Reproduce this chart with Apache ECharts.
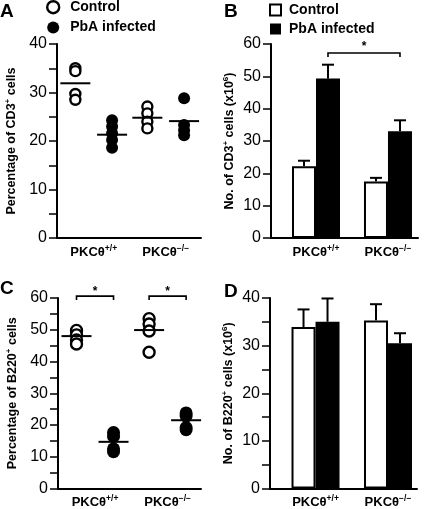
<!DOCTYPE html>
<html>
<head>
<meta charset="utf-8">
<script src="https://cdn.jsdelivr.net/npm/echarts@6/dist/echarts.min.js"></script>
<style>html,body{margin:0;padding:0;background:#fff}#c{width:425px;height:509px}</style>
</head>
<body>
<div id="c"></div>
<script>
// ---------- data ----------
const catBase = ['PKCθ', 'PKCθ'];
const catSup = ['+/+', '−/−'];
const seriesNames = ['Control', 'PbA infected'];

// Panel A: % CD3+ cells (individual animals, per genotype)
const A_control = [[35.0, 34.4, 29.7, 28.5], [27.1, 25.7, 24.0, 22.6]];
const A_pba = [[24.3, 23.0, 21.6, 20.2, 18.6], [28.8, 23.3, 22.2, 21.2]];
const A_controlMean = [31.9, 24.8];
const A_pbaMean = [21.3, 24.1];
const A_ticks = [0, 10, 20, 30, 40];

// Panel B: No. of CD3+ cells (x10^6)
const B_control = [22.2, 17.5];
const B_controlErr = [1.7, 1.1];
const B_pba = [49.3, 33.0];
const B_pbaErr = [4.3, 3.4];
const B_ticks = [0, 10, 20, 30, 40, 50, 60];

// Panel C: % B220+ cells
const C_control = [[49.8, 48.4, 46.8, 45.5], [53.5, 51.8, 49.6, 42.9]];
const C_pba = [[17.6, 16.4, 12.5, 11.6], [23.8, 22.8, 19.2, 18.5]];
const C_controlMean = [48.0, 49.9];
const C_pbaMean = [14.7, 21.5];
const C_ticks = [0, 10, 20, 30, 40, 50, 60];

// Panel D: No. of B220+ cells (x10^6)
const D_control = [33.9, 35.3];
const D_controlErr = [3.7, 3.4];
const D_pba = [35.0, 30.5];
const D_pbaErr = [4.9, 2.1];
const D_ticks = [0, 10, 20, 30, 40];

// significance brackets: [from category, to category, level]
const B_sig = [[0, 1, 57.2]];
const C_sig = [[0, 0, 60.6], [1, 1, 60.6]];

// ---------- styles ----------
const FONT = '"Liberation Sans", Arial, Helvetica, sans-serif';
const OFF = 0.255;      // scatter group offset (axis units)
const BAR_W = 24;       // px

const chart = echarts.init(document.getElementById('c'), null, {renderer: 'canvas'});

function catFormatter(v) {
  const i = Math.round(v);
  if (Math.abs(v - i) > 1e-6 || i < 0 || i > 1) return '';
  return '{b|' + catBase[i] + '}{s|' + catSup[i] + '}';
}
function xAxisCfg(gi, min, max) {
  return {
    type: 'value', gridIndex: gi, min: min, max: max,
    axisLine: {show: true, onZero: false, lineStyle: {color: '#000', width: 2}},
    axisTick: {show: false}, splitLine: {show: false},
    axisLabel: {
      customValues: [0, 1], formatter: catFormatter, margin: 6,
      rich: {
        b: {fontFamily: FONT, fontSize: 13, fontWeight: 'bold', color: '#000', lineHeight: 16},
        s: {fontFamily: FONT, fontSize: 8.5, fontWeight: 'bold', color: '#000', verticalAlign: 'top', lineHeight: 10}
      }
    }
  };
}
function yAxisCfg(gi, ticks, minor, nameRich, gap) {
  return {
    type: 'value', gridIndex: gi, min: ticks[0], max: ticks[ticks.length - 1], interval: ticks[1] - ticks[0],
    axisLine: {show: true, onZero: false, lineStyle: {color: '#000', width: 2}},
    axisTick: {show: true, length: 8, lineStyle: {color: '#000', width: 1.5}},
    minorTick: {show: minor, splitNumber: 2, length: 8, lineStyle: {color: '#000', width: 1.5}},
    splitLine: {show: false},
    axisLabel: {fontFamily: FONT, fontSize: 16, color: '#000', margin: 10},
    name: nameRich, nameLocation: 'middle', nameRotate: 90, nameGap: gap,
    nameTextStyle: {
      rich: {
        a: {fontFamily: FONT, fontSize: 12.5, fontWeight: 'bold', color: '#000', lineHeight: 15},
        s: {fontFamily: FONT, fontSize: 8, fontWeight: 'bold', color: '#000', verticalAlign: 'top', lineHeight: 9}
      }
    }
  };
}

function scatterData(groups, sign) {
  const out = [];
  groups.forEach((g, i) => g.forEach(v => out.push([i + sign * OFF, v])));
  return out;
}
function meanData(means, sign) {
  return means.map((v, i) => [i + sign * OFF, v]);
}
function barData(vals) { return vals.map((v, i) => [i, v]); }
function errData(vals, errs) { return vals.map((v, i) => [i, v, errs[i]]); }

function errSeries(gi, vals, errs, sign) {
  return {
    type: 'custom', xAxisIndex: gi, yAxisIndex: gi, z: 5,
    data: errData(vals, errs),
    encode: {x: 0, y: 1},
    renderItem: function (params, api) {
      const x = api.value(0), y = api.value(1), e = api.value(2);
      const p0 = api.coord([x, y]);
      const p1 = api.coord([x, y + e]);
      const cx = p0[0] + sign * BAR_W / 2;
      return {type: 'group', children: [
        {type: 'line', shape: {x1: cx, y1: p0[1], x2: cx, y2: p1[1]}, style: {stroke: '#000', lineWidth: 2}},
        {type: 'line', shape: {x1: cx - 6, y1: p1[1], x2: cx + 6, y2: p1[1]}, style: {stroke: '#000', lineWidth: 2}}
      ]};
    }
  };
}
function sigSeries(gi, data, unitShift1, unitShift2, pxShift, tick, starLift) {
  return {
    type: 'custom', xAxisIndex: gi, yAxisIndex: gi, z: 6, clip: false,
    data: data, encode: {x: [0, 1], y: 2},
    renderItem: function (params, api) {
      const a = api.coord([api.value(0) + unitShift1, api.value(2)]);
      const b = api.coord([api.value(1) + unitShift2, api.value(2)]);
      const x1 = a[0] + pxShift, x2 = b[0] + pxShift, y = a[1];
      return {type: 'group', children: [
        {type: 'polyline', shape: {points: [[x1, y + tick], [x1, y], [x2, y], [x2, y + tick]]},
          style: {stroke: '#000', lineWidth: 1.6, fill: null}},
        {type: 'text', style: {text: '*', x: (x1 + x2) / 2, y: y - starLift, textAlign: 'center', textVerticalAlign: 'middle',
          font: 'bold 12px ' + FONT, fill: '#000'}}
      ]};
    }
  };
}

const openCircle = {color: '#fff', borderColor: '#000', borderWidth: 2.4, opacity: 1};
const filled = {color: '#000', opacity: 1};

const option = {
  animation: false,
  backgroundColor: '#fff',
  title: [
    {text: 'A', left: 0, top: 2, padding: 0, textStyle: {fontFamily: FONT, fontSize: 19, fontWeight: 'bold', color: '#000'}},
    {text: 'B', left: 224, top: 2, padding: 0, textStyle: {fontFamily: FONT, fontSize: 19, fontWeight: 'bold', color: '#000'}},
    {text: 'C', left: 0, top: 279, padding: 0, textStyle: {fontFamily: FONT, fontSize: 19, fontWeight: 'bold', color: '#000'}},
    {text: 'D', left: 224, top: 282, padding: 0, textStyle: {fontFamily: FONT, fontSize: 19, fontWeight: 'bold', color: '#000'}}
  ],
  legend: [
    {left: 46, top: 0, orient: 'vertical', padding: 0, itemGap: 6, itemWidth: 12, itemHeight: 12, selectedMode: false,
      textStyle: {fontFamily: FONT, fontSize: 14, fontWeight: 'bold', color: '#000', padding: [0, 0, 0, 6]},
      data: [
        {name: seriesNames[0], icon: 'circle', itemStyle: {color: '#fff', borderColor: '#000', borderWidth: 2.4, opacity: 1}},
        {name: seriesNames[1], icon: 'circle', itemStyle: {color: '#000', borderWidth: 0, opacity: 1}}
      ]},
    {left: 269, top: 3, orient: 'vertical', padding: 0, itemGap: 5, itemWidth: 11, itemHeight: 11, selectedMode: false,
      textStyle: {fontFamily: FONT, fontSize: 14, fontWeight: 'bold', color: '#000', padding: [0, 0, 0, 3]},
      data: [
        {name: seriesNames[0], icon: 'rect', itemStyle: {color: '#fff', borderColor: '#000', borderWidth: 2, opacity: 1}},
        {name: seriesNames[1], icon: 'rect', itemStyle: {color: '#000', borderWidth: 0, opacity: 1}}
      ]}
  ],
  grid: [
    {left: 57, top: 44, width: 144, height: 194},
    {left: 271, top: 44, width: 147, height: 194},
    {left: 58, top: 298, width: 143, height: 191},
    {left: 270, top: 298, width: 147, height: 191}
  ],
  xAxis: [
    xAxisCfg(0, -0.51, 1.49),
    xAxisCfg(1, -0.625, 1.417),
    xAxisCfg(2, -0.51, 1.46),
    xAxisCfg(3, -0.628, 1.4)
  ],
  yAxis: [
    yAxisCfg(0, A_ticks, true, '{a|Percentage of CD3}{s|+}{a| cells}', 38),
    yAxisCfg(1, B_ticks, false, '{a|No. of CD3}{s|+}{a| cells (x10}{s|6}{a|)}', 34),
    yAxisCfg(2, C_ticks, true, '{a|Percentage of B220}{s|+}{a| cells}', 38),
    yAxisCfg(3, D_ticks, true, '{a|No. of B220}{s|+}{a| cells (x10}{s|6}{a|)}', 34)
  ],
  series: [
    // Panel A
    {name: seriesNames[0], type: 'scatter', xAxisIndex: 0, yAxisIndex: 0, symbol: 'circle', symbolSize: 10, itemStyle: openCircle, data: scatterData(A_control, -1), z: 3},
    {name: seriesNames[1], type: 'scatter', xAxisIndex: 0, yAxisIndex: 0, symbol: 'circle', symbolSize: 12, itemStyle: filled, data: scatterData(A_pba, 1), z: 3},
    {type: 'scatter', xAxisIndex: 0, yAxisIndex: 0, symbol: 'rect', symbolSize: [30, 2], itemStyle: filled, data: meanData(A_controlMean, -1).concat(meanData(A_pbaMean, 1)), z: 4},
    // Panel B
    {name: seriesNames[0], type: 'bar', xAxisIndex: 1, yAxisIndex: 1, barWidth: BAR_W, barGap: '0%', itemStyle: {color: '#fff', borderColor: '#000', borderWidth: 2, opacity: 1}, data: barData(B_control)},
    {name: seriesNames[1], type: 'bar', xAxisIndex: 1, yAxisIndex: 1, barWidth: BAR_W, barGap: '0%', itemStyle: {color: '#000', borderColor: '#000', borderWidth: 2, opacity: 1}, data: barData(B_pba)},
    errSeries(1, B_control, B_controlErr, -1),
    errSeries(1, B_pba, B_pbaErr, 1),
    sigSeries(1, B_sig, 0, 0, BAR_W / 2, 4, 6),
    // Panel C
    {name: seriesNames[0], type: 'scatter', xAxisIndex: 2, yAxisIndex: 2, symbol: 'circle', symbolSize: 11, itemStyle: openCircle, data: scatterData(C_control, -1), z: 3},
    {name: seriesNames[1], type: 'scatter', xAxisIndex: 2, yAxisIndex: 2, symbol: 'circle', symbolSize: 13, itemStyle: filled, data: scatterData(C_pba, 1), z: 3},
    {type: 'scatter', xAxisIndex: 2, yAxisIndex: 2, symbol: 'rect', symbolSize: [30, 2], itemStyle: filled, data: meanData(C_controlMean, -1).concat(meanData(C_pbaMean, 1)), z: 4},
    sigSeries(2, C_sig, -OFF, OFF, 0, 4, 4),
    // Panel D
    {name: seriesNames[0], type: 'bar', xAxisIndex: 3, yAxisIndex: 3, barWidth: BAR_W, barGap: '0%', itemStyle: {color: '#fff', borderColor: '#000', borderWidth: 2, opacity: 1}, data: barData(D_control)},
    {name: seriesNames[1], type: 'bar', xAxisIndex: 3, yAxisIndex: 3, barWidth: BAR_W, barGap: '0%', itemStyle: {color: '#000', borderColor: '#000', borderWidth: 2, opacity: 1}, data: barData(D_pba)},
    errSeries(3, D_control, D_controlErr, -1),
    errSeries(3, D_pba, D_pbaErr, 1)
  ]
};
chart.setOption(option);
</script>
</body>
</html>
